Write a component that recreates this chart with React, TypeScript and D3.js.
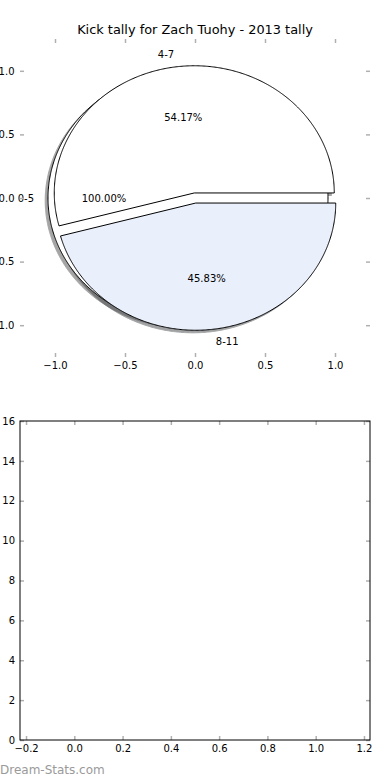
import { useEffect, useRef } from "react";
import * as d3 from "d3";

// pie drawn first: a single full wedge
const baseLabels = ["0-5"];
const baseValues = [1];
const baseExplode = [0.05];
const baseColors = ["#ffffff"];

// pie drawn on top
const kickLabels = ["4-7", "8-11"];
const kickValues = [13, 11];
const kickExplode = [0.04, 0.04];
const kickColors = ["#ffffff", "#e9effb"];

const pieTicks = [-1, -0.5, 0, 0.5, 1];
const barXTicks = [-0.2, 0, 0.2, 0.4, 0.6, 0.8, 1.0, 1.2];
const barYTicks = [0, 2, 4, 6, 8, 10, 12, 14, 16];

const title = "Kick tally for Zach Tuohy - 2013 tally";
const watermark = "Dream-Stats.com";

const W = 390;
const H = 780;
const FONT = "DejaVu Sans";

function App() {
    const svgRef = useRef<SVGSVGElement>(null);

    useEffect(() => {
        const svgEl = svgRef.current;
        if (!svgEl) return;
        const svg = d3.select(svgEl);
        svg.selectAll("*").remove();

        const pieX = d3.scaleLinear().domain([-1.25, 1.25]).range([20, 370]);
        const pieY = d3.scaleLinear().domain([-1.25, 1.25]).range([357, 39]);

        const barX = d3.scaleLinear().domain([-0.225, 1.225]).range([20, 370]);
        const barY = d3.scaleLinear().domain([0, 16]).range([740, 421]);

        const line = d3.line<[number, number]>()
            .x(d => pieX(d[0]))
            .y(d => pieY(d[1]));

        type Wedge = {
            label: string;
            pct: string;
            cx: number;
            cy: number;
            t1: number;
            t2: number;
            mid: number;
            color: string;
        };

        // angles from d3.pie, read counterclockwise from +x like matplotlib
        const buildWedges = (labels: string[], values: number[], explode: number[], colors: string[]): Wedge[] => {
            const total = d3.sum(values);
            const arcs = d3.pie<number>().sort(null).startAngle(0).endAngle(2 * Math.PI)(values);
            return arcs.map((a, i) => {
                const mid = (a.startAngle + a.endAngle) / 2;
                return {
                    label: labels[i],
                    pct: (values[i] / total * 100).toFixed(2) + "%",
                    cx: explode[i] * Math.cos(mid),
                    cy: explode[i] * Math.sin(mid),
                    t1: a.startAngle,
                    t2: a.endAngle,
                    mid,
                    color: colors[i],
                };
            });
        };

        const wedgePath = (w: Wedge, dx: number, dy: number) => {
            const full = Math.abs(w.t2 - w.t1 - 2 * Math.PI) < 1e-9;
            const steps = Math.max(2, Math.ceil((w.t2 - w.t1) / (Math.PI / 360)));
            const pts: [number, number][] = [];
            if (!full) pts.push([w.cx + dx, w.cy + dy]);
            for (let i = 0; i <= steps; i++) {
                const t = w.t1 + (w.t2 - w.t1) * i / steps;
                pts.push([w.cx + dx + Math.cos(t), w.cy + dy + Math.sin(t)]);
            }
            return line(pts) + "Z";
        };

        const wedges = [
            ...buildWedges(baseLabels, baseValues, baseExplode, baseColors),
            ...buildWedges(kickLabels, kickValues, kickExplode, kickColors),
        ];

        const shade = (col: string) => {
            const c = d3.rgb(col);
            return d3.rgb(c.r * 0.3, c.g * 0.3, c.b * 0.3).toString();
        };

        // Shadows under every wedge
        svg.append("g")
            .selectAll("path")
            .data(wedges)
            .join("path")
            .attr("d", d => wedgePath(d, -0.02, -0.02))
            .attr("fill", d => shade(d.color))
            .attr("stroke", d => shade(d.color))
            .attr("stroke-width", 1)
            .attr("opacity", 0.5);

        // Wedges
        svg.append("g")
            .selectAll("path")
            .data(wedges)
            .join("path")
            .attr("d", d => wedgePath(d, 0, 0))
            .attr("fill", d => d.color)
            .attr("stroke", "#000")
            .attr("stroke-width", 1)
            .attr("stroke-linejoin", "miter");

        // Labels and percentages
        const labelG = svg.append("g")
            .attr("font-family", FONT)
            .attr("font-size", "10px")
            .attr("fill", "#000");

        labelG.selectAll("text.lbl")
            .data(wedges)
            .join("text")
            .attr("class", "lbl")
            .attr("x", d => pieX(d.cx + 1.1 * Math.cos(d.mid)))
            .attr("y", d => pieY(d.cy + 1.1 * Math.sin(d.mid)))
            .attr("text-anchor", d => Math.cos(d.mid) > 0 ? "start" : "end")
            .attr("dominant-baseline", "central")
            .text(d => d.label);

        labelG.selectAll("text.pct")
            .data(wedges)
            .join("text")
            .attr("class", "pct")
            .attr("x", d => pieX(d.cx + 0.6 * Math.cos(d.mid)))
            .attr("y", d => pieY(d.cy + 0.6 * Math.sin(d.mid)))
            .attr("text-anchor", "middle")
            .attr("dominant-baseline", "central")
            .text(d => d.pct);

        const styleAxis = (g: d3.Selection<SVGGElement, unknown, null, undefined>) => {
            g.select(".domain").remove();
            g.selectAll(".tick line").attr("stroke", "#b0b0b0").attr("stroke-width", 1.5);
            g.selectAll(".tick text")
                .attr("fill", "#000")
                .attr("font-family", FONT)
                .attr("font-size", "10px");
        };

        const fmt1 = d3.format(".1f");

        // Pie axes (no frame, ticks only)
        svg.append("g")
            .attr("transform", "translate(0,357)")
            .call(d3.axisBottom(pieX).tickValues(pieTicks).tickFormat(d => fmt1(d as number)).tickSize(-4).tickPadding(5))
            .call(styleAxis);
        svg.append("g")
            .attr("transform", "translate(0,39)")
            .call(d3.axisTop(pieX).tickValues(pieTicks).tickFormat(() => "").tickSize(-4))
            .call(styleAxis);
        svg.append("g")
            .attr("transform", "translate(20,0)")
            .call(d3.axisLeft(pieY).tickValues(pieTicks).tickFormat(d => fmt1(d as number)).tickSize(-4).tickPadding(5.5))
            .call(styleAxis);
        svg.append("g")
            .attr("transform", "translate(370,0)")
            .call(d3.axisRight(pieY).tickValues(pieTicks).tickFormat(() => "").tickSize(-4))
            .call(styleAxis);

        svg.append("text")
            .attr("x", 195)
            .attr("y", 34)
            .attr("text-anchor", "middle")
            .attr("font-family", FONT)
            .attr("font-size", "12.9px")
            .attr("fill", "#000")
            .text(title);

        // Empty bar axes
        svg.append("g")
            .attr("transform", "translate(0,740)")
            .call(d3.axisBottom(barX).tickValues(barXTicks).tickFormat(d => fmt1(d as number)).tickSize(-4).tickPadding(5))
            .call(styleAxis);
        svg.append("g")
            .attr("transform", "translate(0,421)")
            .call(d3.axisTop(barX).tickValues(barXTicks).tickFormat(() => "").tickSize(-4))
            .call(styleAxis);
        svg.append("g")
            .attr("transform", "translate(20,0)")
            .call(d3.axisLeft(barY).tickValues(barYTicks).tickFormat(d => String(d)).tickSize(-4).tickPadding(5))
            .call(styleAxis);
        svg.append("g")
            .attr("transform", "translate(370,0)")
            .call(d3.axisRight(barY).tickValues(barYTicks).tickFormat(() => "").tickSize(-4))
            .call(styleAxis);

        svg.append("rect")
            .attr("x", barX.range()[0])
            .attr("y", barY.range()[1])
            .attr("width", barX.range()[1] - barX.range()[0])
            .attr("height", barY.range()[0] - barY.range()[1])
            .attr("fill", "none")
            .attr("stroke", "#000")
            .attr("stroke-width", 1);

        svg.append("text")
            .attr("x", 0)
            .attr("y", 774)
            .attr("font-family", FONT)
            .attr("font-size", "12px")
            .attr("fill", "#9a9a9a")
            .text(watermark);
    }, []);

    return (
        <svg
            ref={svgRef}
            width={W}
            height={H}
            style={{ position: "absolute", left: 0, top: 0, background: "#fff" }}
        />
    );
}

export default App;
